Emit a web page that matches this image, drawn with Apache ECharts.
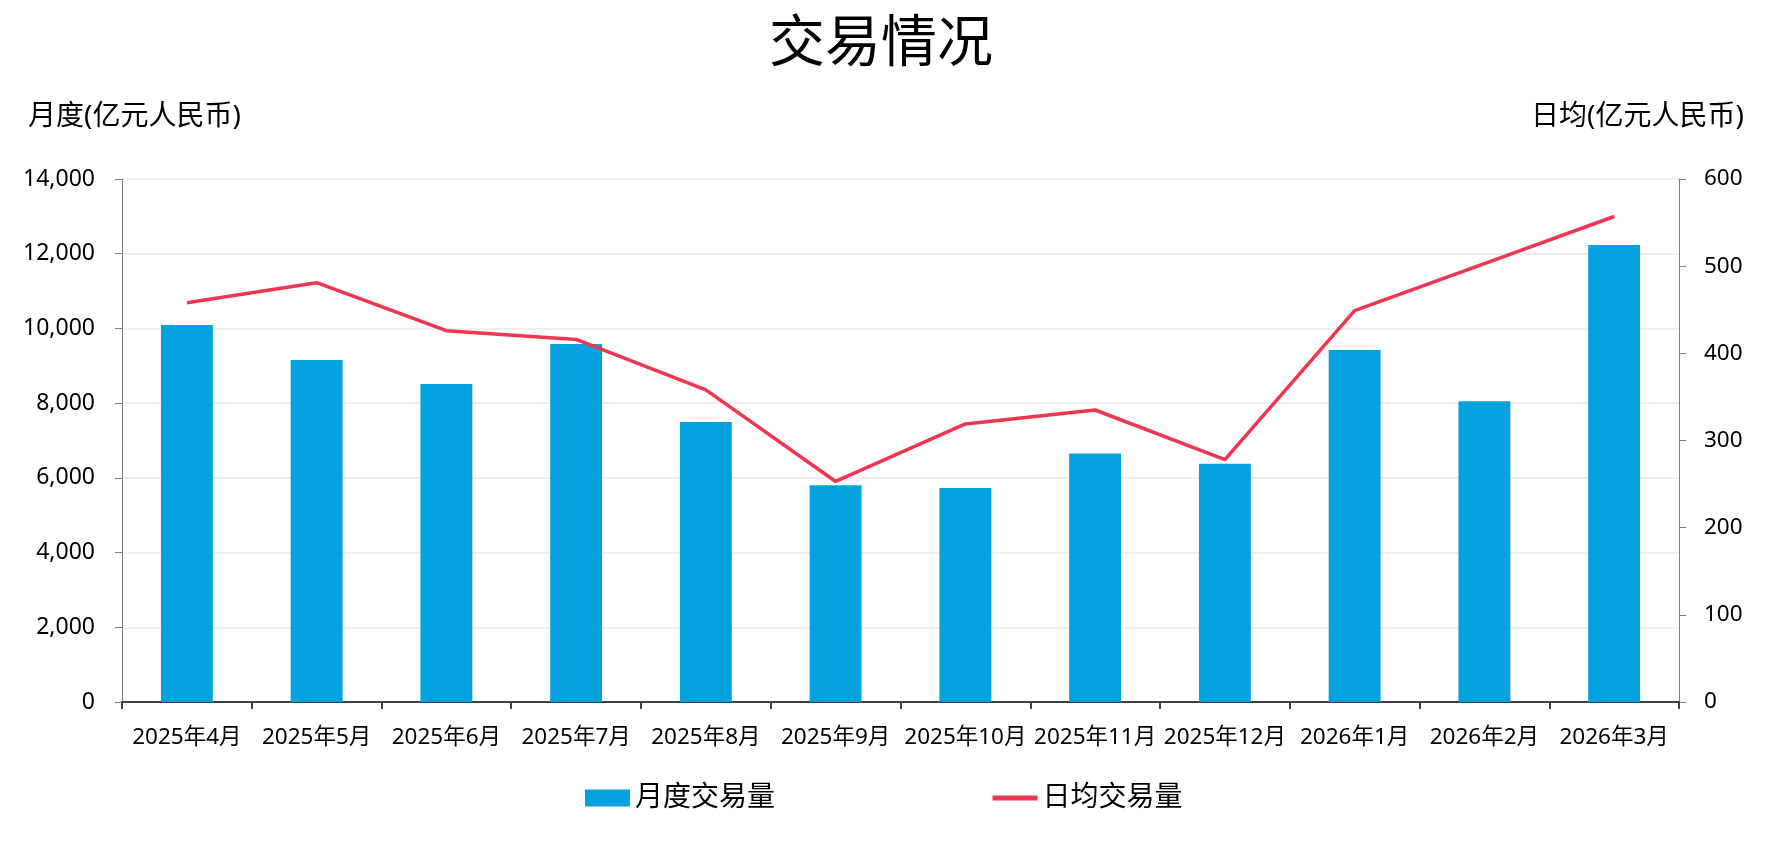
<!DOCTYPE html>
<html>
<head>
<meta charset="utf-8">
<script src="https://cdn.jsdelivr.net/npm/echarts@6/dist/echarts.min.js"></script>
<style>
html,body{margin:0;padding:0;background:#fff;}
#chart{width:1784px;height:842px;}
</style>
</head>
<body>
<div id="chart"></div>
<script>
const categories = ['2025年4月','2025年5月','2025年6月','2025年7月','2025年8月','2025年9月','2025年10月','2025年11月','2025年12月','2026年1月','2026年2月','2026年3月'];
const monthlyVolume = [10090, 9155, 8510, 9580, 7495, 5800, 5730, 6655, 6375, 9420, 8050, 12230];
const dailyAverage = [458, 481, 426, 416, 358, 253, 319, 335, 278, 449, 503, 557];
const leftTicks = { min: 0, max: 14000, interval: 2000 };
const rightTicks = { min: 0, max: 600, interval: 100 };

const FONT = '"Noto Sans", "Noto Sans CJK SC", sans-serif';
const chart = echarts.init(document.getElementById('chart'), null, {renderer: 'canvas'});
chart.setOption({
  backgroundColor: '#ffffff',
  animation: false,
  textStyle: { fontFamily: FONT },
  title: {
    text: '交易情况',
    left: 769,
    top: 17,
    padding: 0,
    textStyle: { fontSize: 56, fontWeight: 'normal', color: '#000', fontFamily: FONT }
  },
  legend: {
    left: 580,
    top: 779,
    itemWidth: 45,
    itemHeight: 17,
    itemGap: 215,
    textStyle: { fontSize: 28, color: '#000', fontFamily: FONT },
    data: [
      { name: '月度交易量', icon: 'rect' },
      { name: '日均交易量', itemStyle: { opacity: 0 }, lineStyle: { width: 5 } }
    ]
  },
  grid: { left: 122, right: 105, top: 179, bottom: 140, containLabel: false },
  xAxis: {
    type: 'category',
    data: categories,
    axisLine: { show: true, lineStyle: { color: '#404040', width: 2 } },
    axisTick: { show: true, alignWithLabel: false, length: 7, lineStyle: { color: '#404040', width: 2 } },
    axisLabel: { fontSize: 22.5, color: '#000', margin: 24, interval: 0, fontFamily: FONT }
  },
  yAxis: [
    {
      type: 'value',
      min: leftTicks.min, max: leftTicks.max, interval: leftTicks.interval,
      name: '月度(亿元人民币)',
      nameLocation: 'end',
      nameGap: 48,
      nameTextStyle: { fontSize: 28, color: '#000', align: 'center', padding: [0, 0, 0, 25], fontFamily: FONT },
      axisLine: { show: true, lineStyle: { color: '#7f7f7f', width: 1 } },
      axisTick: { show: true, length: 7, lineStyle: { color: '#7f7f7f' } },
      axisLabel: { fontSize: 23, color: '#000', margin: 27, fontFamily: FONT,
        formatter: v => v.toLocaleString('en-US') },
      splitLine: { show: true, lineStyle: { color: '#efefef', width: 2 } }
    },
    {
      type: 'value',
      min: rightTicks.min, max: rightTicks.max, interval: rightTicks.interval,
      name: '日均(亿元人民币)',
      nameLocation: 'end',
      nameGap: 48,
      nameTextStyle: { fontSize: 28, color: '#000', align: 'center', padding: [0, 83, 0, 0], fontFamily: FONT },
      axisLine: { show: true, lineStyle: { color: '#7f7f7f', width: 1 } },
      axisTick: { show: true, length: 7, lineStyle: { color: '#7f7f7f' } },
      axisLabel: { fontSize: 22.5, color: '#000', margin: 25, fontFamily: FONT },
      splitLine: { show: false }
    }
  ],
  series: [
    {
      name: '月度交易量',
      type: 'bar',
      data: monthlyVolume,
      yAxisIndex: 0,
      barWidth: '40%',
      itemStyle: { color: '#03A2DF' }
    },
    {
      name: '日均交易量',
      type: 'line',
      data: dailyAverage,
      yAxisIndex: 1,
      symbol: 'none',
      showSymbol: false,
      lineStyle: { color: '#F0364F', width: 3.5 },
      itemStyle: { color: '#F0364F' }
    }
  ]
});
</script>
</body>
</html>
